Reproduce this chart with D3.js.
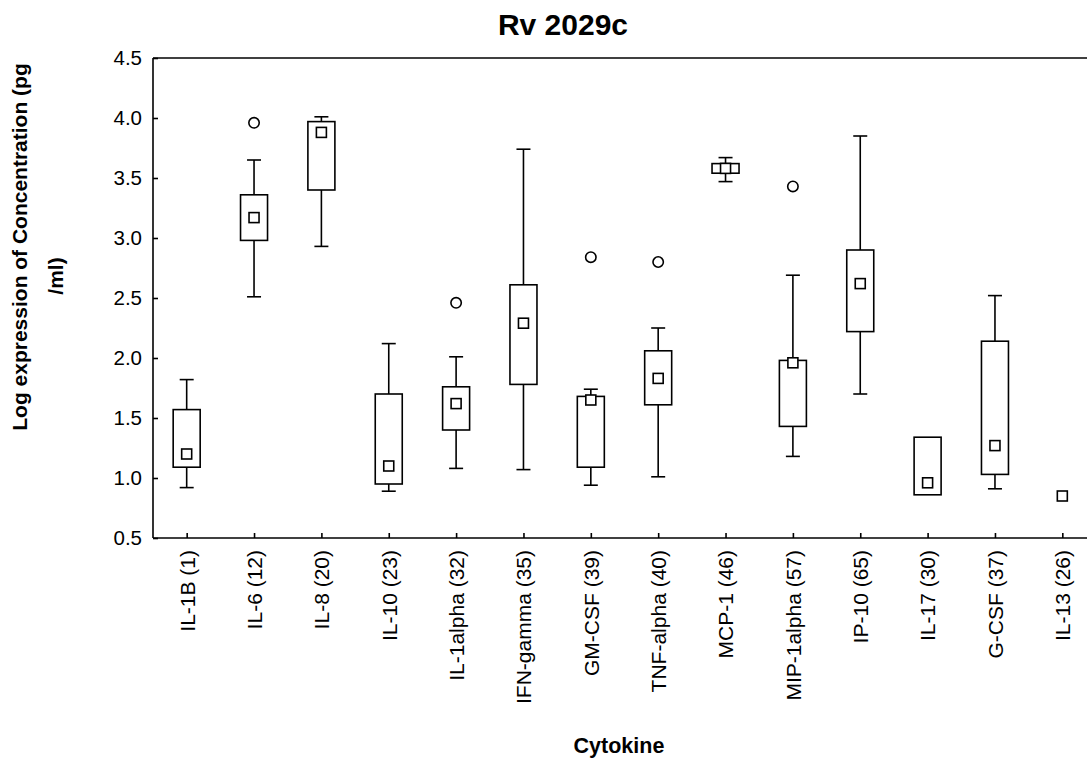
<!DOCTYPE html>
<html>
<head>
<meta charset="utf-8">
<script src="https://cdn.jsdelivr.net/npm/d3@7"></script>
<style>
  html, body { margin: 0; padding: 0; background: #fff; }
  svg { display: block; font-family: "Liberation Sans", Arial, Helvetica, sans-serif; }
</style>
</head>
<body>
<svg id="chart" width="1087" height="765"></svg>
<script>
// Cytokine panels (log10 pg/ml) for Rv 2029c stimulation
const categories = [
  "IL-1B (1)", "IL-6 (12)", "IL-8 (20)", "IL-10 (23)", "IL-1alpha (32)",
  "IFN-gamma (35)", "GM-CSF (39)", "TNF-alpha (40)", "MCP-1 (46)",
  "MIP-1alpha (57)", "IP-10 (65)", "IL-17 (30)", "G-CSF (37)", "IL-13 (26)"
];
const whiskerMin = [0.92, 2.51, 2.93, 0.89, 1.08, 1.07, 0.94, 1.01, 3.47, 1.18, 1.70, null, 0.91, null];
const quartile1  = [1.09, 2.98, 3.40, 0.95, 1.40, 1.78, 1.09, 1.61, 3.54, 1.43, 2.22, 0.86, 1.03, null];
const medians    = [1.20, 3.17, 3.88, 1.10, 1.62, 2.29, 1.65, 1.83, 3.58, 1.96, 2.62, 0.96, 1.27, 0.85];
const quartile3  = [1.57, 3.36, 3.97, 1.70, 1.76, 2.61, 1.68, 2.06, 3.62, 1.98, 2.90, 1.34, 2.14, null];
const whiskerMax = [1.82, 3.65, 4.01, 2.12, 2.01, 3.74, 1.74, 2.25, 3.67, 2.69, 3.85, null, 2.52, null];
const outliers   = [null, 3.96, null, null, 2.46, null, 2.84, 2.80, null, 3.43, null, null, null, null];
const yTicks = [0.5, 1.0, 1.5, 2.0, 2.5, 3.0, 3.5, 4.0, 4.5];

const svg = d3.select("#chart");
const plotLeft = 153, plotRight = 1096, plotTop = 58, plotBottom = 538;
const font = '"Liberation Sans", Arial, Helvetica, sans-serif';

const x = d3.scalePoint().domain(categories).range([plotLeft, plotRight]).padding(0.5);
const y = d3.scaleLinear().domain([0.5, 4.5]).range([plotBottom, plotTop]);

const rows = categories.map((c, i) => ({
  c, wmin: whiskerMin[i], q1: quartile1[i], med: medians[i],
  q3: quartile3[i], wmax: whiskerMax[i], out: outliers[i]
}));

// Frame (right side runs past the canvas edge)
const frame = svg.append("g").attr("stroke", "#000").attr("stroke-width", 1.6).attr("fill", "none");
frame.append("line").attr("x1", plotLeft).attr("x2", plotRight).attr("y1", plotTop).attr("y2", plotTop);
frame.append("line").attr("x1", plotLeft).attr("x2", plotRight).attr("y1", plotBottom).attr("y2", plotBottom);
frame.append("line").attr("x1", plotLeft).attr("x2", plotLeft).attr("y1", plotTop).attr("y2", plotBottom);

// Y axis with inward ticks
const yAxis = svg.append("g").attr("transform", `translate(${plotLeft},0)`)
  .call(d3.axisLeft(y).tickValues(yTicks).tickFormat(d3.format(".1f")).tickSizeInner(-5).tickSizeOuter(0).tickPadding(11));
yAxis.select(".domain").remove();
yAxis.selectAll(".tick line").attr("stroke", "#000").attr("stroke-width", 1.6);
yAxis.selectAll(".tick text").attr("font-size", 20.5).attr("font-family", font).attr("fill", "#000");

// X axis with inward ticks and vertical labels
const xAxis = svg.append("g").attr("transform", `translate(0,${plotBottom})`)
  .call(d3.axisBottom(x).tickSizeInner(-5).tickSizeOuter(0));
xAxis.select(".domain").remove();
xAxis.selectAll(".tick line").attr("stroke", "#000").attr("stroke-width", 1.6);
xAxis.selectAll(".tick text")
  .attr("font-size", 21).attr("font-family", font).attr("fill", "#000")
  .attr("text-anchor", "end")
  .attr("transform", "rotate(-90)")
  .attr("x", -12).attr("y", 0).attr("dy", "0.35em");

// Box plots
const g = svg.append("g").attr("stroke", "#000").attr("stroke-width", 1.6);
const boxW = 27, capW = 14, sq = 10;

rows.forEach(d => {
  const cx = x(d.c);
  if (d.wmax != null && d.q3 != null) {
    g.append("line").attr("x1", cx).attr("x2", cx).attr("y1", y(d.q3)).attr("y2", y(d.wmax));
    g.append("line").attr("x1", cx - capW / 2).attr("x2", cx + capW / 2).attr("y1", y(d.wmax)).attr("y2", y(d.wmax));
  }
  if (d.wmin != null && d.q1 != null) {
    g.append("line").attr("x1", cx).attr("x2", cx).attr("y1", y(d.q1)).attr("y2", y(d.wmin));
    g.append("line").attr("x1", cx - capW / 2).attr("x2", cx + capW / 2).attr("y1", y(d.wmin)).attr("y2", y(d.wmin));
  }
  if (d.q1 != null && d.q3 != null) {
    g.append("rect").attr("x", cx - boxW / 2).attr("y", y(d.q3))
      .attr("width", boxW).attr("height", y(d.q1) - y(d.q3)).attr("fill", "#fff");
  }
  if (d.med != null) {
    g.append("rect").attr("x", cx - sq / 2).attr("y", y(d.med) - sq / 2)
      .attr("width", sq).attr("height", sq).attr("fill", "#fff");
  }
  if (d.out != null) {
    g.append("circle").attr("cx", cx).attr("cy", y(d.out)).attr("r", 5.2).attr("fill", "#fff");
  }
});

// Titles
svg.append("text").attr("x", 563).attr("y", 35).attr("text-anchor", "middle")
  .attr("font-size", 30).attr("font-weight", "bold").attr("font-family", font)
  .text("Rv 2029c");

svg.append("text").attr("x", 619).attr("y", 753).attr("text-anchor", "middle")
  .attr("font-size", 21.5).attr("font-weight", "bold").attr("font-family", font)
  .text("Cytokine");

svg.append("text").attr("transform", "translate(27,247) rotate(-90)").attr("text-anchor", "middle")
  .attr("font-size", 21).attr("font-weight", "bold").attr("font-family", font)
  .text("Log expression of Concentration (pg");
svg.append("text").attr("transform", "translate(63,276) rotate(-90)").attr("text-anchor", "middle")
  .attr("font-size", 21).attr("font-weight", "bold").attr("font-family", font)
  .text("/ml)");
</script>
</body>
</html>
